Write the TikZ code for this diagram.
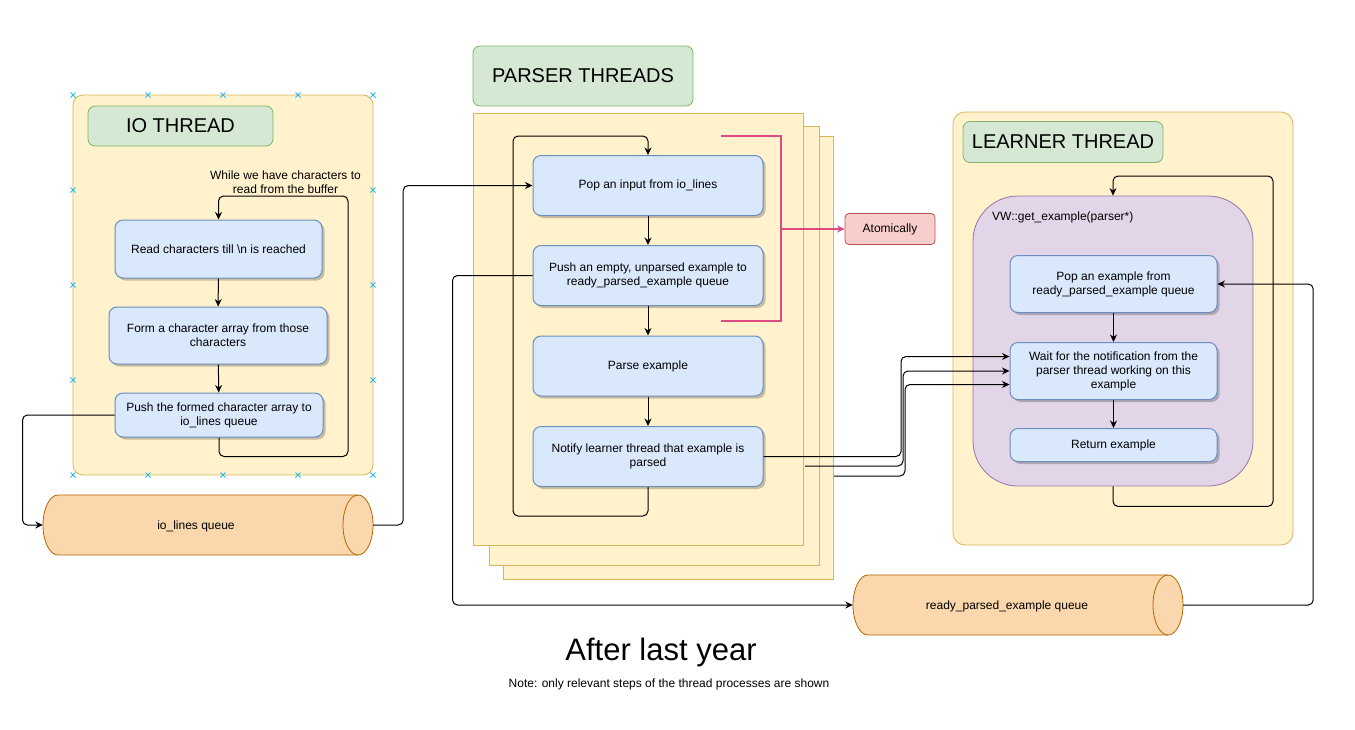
\documentclass[tikz,border=0pt]{standalone}
\usepackage{fontspec}
\setmainfont{Liberation Sans}
\usetikzlibrary{arrows.meta,shadows,calc}
\definecolor{boxfill}{HTML}{DAE8FC}
\definecolor{boxline}{HTML}{6C8EBF}
\definecolor{yfill}{HTML}{FFF2CC}
\definecolor{yline}{HTML}{D6B656}
\definecolor{gfill}{HTML}{D5E8D4}
\definecolor{gline}{HTML}{82B366}
\definecolor{rfill}{HTML}{F8CECC}
\definecolor{rline}{HTML}{B85450}
\definecolor{pfill}{HTML}{E1D5E7}
\definecolor{pline}{HTML}{9673A6}
\definecolor{ofill}{HTML}{FAD7AC}
\definecolor{oline}{HTML}{B46504}
\definecolor{pinkc}{HTML}{DE4A82}
\definecolor{handle}{HTML}{29B6F2}
\tikzset{
  ftw/.style={font=\fontsize{12}{14}\selectfont},
  fbig/.style={font=\fontsize{20}{24}\selectfont},
  box/.style={draw=boxline, fill=boxfill, rounded corners=8pt, align=center, ftw, inner sep=0pt, line width=1pt,
    drop shadow={shadow xshift=2.5pt, shadow yshift=-2.5pt, fill=black, opacity=0.22}},
  ycont/.style={draw=yline, fill=yfill, inner sep=0pt, line width=0.8pt},
  title/.style={draw=gline, fill=gfill, rounded corners=7pt, fbig, inner sep=0pt, line width=0.8pt},
  conn/.style={draw=black, line width=1pt, rounded corners=5pt, -{Stealth[length=7.5pt,width=7pt]}},
  pinkl/.style={draw=pinkc, line width=1.2pt},
  cyl/.style={draw=oline, fill=ofill, line width=0.8pt},
}
\begin{document}
\begin{tikzpicture}[x=1pt,y=-1pt]
\useasboundingbox (0,0) rectangle (1355,729);

% ---------- IO THREAD ----------
\node[ycont, rounded corners=10pt, minimum width=300pt, minimum height=380pt] (iocont) at (223,285) {};
\foreach \xx in {73,148,223,298,373} {
  \foreach \yy in {95,475} {
    \draw[handle, line width=0.8pt] (\xx-2.5,\yy-2.5) -- (\xx+2.5,\yy+2.5) (\xx-2.5,\yy+2.5) -- (\xx+2.5,\yy-2.5);
  }
}
\foreach \xx in {73,373} {
  \foreach \yy in {190,285,380} {
    \draw[handle, line width=0.8pt] (\xx-2.5,\yy-2.5) -- (\xx+2.5,\yy+2.5) (\xx-2.5,\yy+2.5) -- (\xx+2.5,\yy-2.5);
  }
}
\node[title, minimum width=185pt, minimum height=40pt] (iotitle) at (180.5,126) {IO THREAD};
\node[box, minimum width=207pt, minimum height=58pt] (read) at (218.5,249) {Read characters till \textbackslash n is reached};
\node[box, minimum width=218pt, minimum height=57pt] (form) at (218,335.5) {Form a character array from those\\characters};
\node[box, minimum width=208pt, minimum height=44pt] (pushio) at (219,415) {Push the formed character array to\\io\_lines queue};
\node[ftw, align=center, inner sep=0pt] (whilelbl) at (285.5,182) {While we have characters to\\read from the buffer};

% io_lines queue cylinder
\node[minimum width=330pt, minimum height=60pt, inner sep=0pt] (ioq) at (208,525) {};
\draw[cyl] (58,495) -- (358,495) arc[start angle=90,end angle=-90,x radius=15pt,y radius=30pt]
  -- (58,555) arc[start angle=270,end angle=90,x radius=15pt,y radius=30pt] -- cycle;
\draw[draw=oline, line width=0.8pt] (358,495) arc[start angle=90,end angle=270,x radius=15pt,y radius=30pt];
\node[ftw, inner sep=0pt] (ioqlbl) at (196,526) {io\_lines queue};

% ---------- PARSER THREADS ----------
\node[title, minimum width=220pt, minimum height=60pt] (ptitle) at (583,76) {PARSER THREADS};
\node[ycont, minimum width=330pt, minimum height=443pt] (back) at (668,357.5) {};
\node[ycont, minimum width=330pt, minimum height=439pt] (mid) at (654,345.5) {};
\node[ycont, minimum width=330pt, minimum height=432pt] (front) at (638,329) {};
\node[box, minimum width=230pt, minimum height=60pt] (pop) at (648,185.5) {Pop an input from io\_lines};
\node[box, minimum width=230pt, minimum height=60pt] (push) at (648,275.5) {Push an empty, unparsed example to\\ready\_parsed\_example queue};
\node[box, minimum width=230pt, minimum height=60pt] (parse) at (648,366) {Parse example};
\node[box, minimum width=230pt, minimum height=60pt] (notify) at (648,456.5) {Notify learner thread that example is\\parsed};
\node[draw=rline, fill=rfill, rounded corners=4pt, ftw, inner sep=0pt, minimum width=90pt, minimum height=31pt, line width=0.8pt] (atom) at (890,229) {Atomically};

% ---------- LEARNER THREAD ----------
\node[ycont, rounded corners=12pt, minimum width=340pt, minimum height=433pt] (lcont) at (1123,328.5) {};
\node[title, minimum width=200pt, minimum height=41pt] (ltitle) at (1063,142) {LEARNER THREAD};
\node[draw=pline, fill=pfill, rounded corners=45pt, minimum width=280pt, minimum height=290pt, inner sep=0pt, line width=0.8pt] (purple) at (1113,341) {};
\node[ftw, anchor=west, inner sep=0pt] (vwlbl) at (992,217) {VW::get\_example(parser*)};
\node[box, minimum width=207pt, minimum height=57pt] (popex) at (1113.5,284) {Pop an example from\\ready\_parsed\_example queue};
\node[box, minimum width=207pt, minimum height=57pt] (wait) at (1113.5,371) {Wait for the notification from the\\parser thread working on this\\example};
\node[box, minimum width=207pt, minimum height=33pt] (ret) at (1113.5,445) {Return example};

% ready queue cylinder
\node[minimum width=330pt, minimum height=60pt, inner sep=0pt] (rq) at (1018,605) {};
\draw[cyl] (868,575) -- (1168,575) arc[start angle=90,end angle=-90,x radius=15pt,y radius=30pt]
  -- (868,635) arc[start angle=270,end angle=90,x radius=15pt,y radius=30pt] -- cycle;
\draw[draw=oline, line width=0.8pt] (1168,575) arc[start angle=90,end angle=270,x radius=15pt,y radius=30pt];
\node[ftw, inner sep=0pt] (rqlbl) at (1007,606) {ready\_parsed\_example queue};

% ---------- captions ----------
\node[font=\fontsize{31}{36}\selectfont, inner sep=0pt] (caption) at (661,652) {After last year};
\node[font=\fontsize{12}{14}\selectfont, inner sep=0pt] (note) at (669,684) {Note: only relevant steps of the thread processes are shown};

% ---------- connectors ----------
\draw[conn] (read) -- (form);
\draw[conn] (form) -- (pushio);
\draw[conn] (pushio.south) -- ++(0,19) -| (348,196) -| (read.north);
\draw[conn] (pushio.west) -- ++(-92,0) |- (ioq.west);
\draw[conn] (ioq.east) -- ++(30,0) |- (pop.west);

\draw[conn] (pop) -- (push);
\draw[conn] (push) -- (parse);
\draw[conn] (parse) -- (notify);
\draw[conn] (notify.south) -- ++(0,29) -| (513,136) -| (pop.north);
\draw[conn] (push.west) -- ++(-80,0) |- (rq.west);

\coordinate (bt) at (721,136);
\coordinate (bb) at (721,321);
\draw[pinkl] (bt) -- (781,136) -- (781,321) -- (bb);
\draw[pinkl, -{Stealth[length=7.5pt,width=7pt]}] (781,229) -- (atom.west);

\coordinate (w1) at ($(wait.west)+(0,-14.5)$);
\coordinate (w3) at ($(wait.west)+(0,13.5)$);
\coordinate (m2) at (805,466);
\coordinate (m3) at (834,476);
\draw[conn] (notify.east) -| (901,356.5) -- (w1);
\draw[conn] (m2) -| (903,371) -- (wait.west);
\draw[conn] (m3) -| (905,384.5) -- (w3);

\draw[conn] (popex) -- (wait);
\draw[conn] (wait) -- (ret);
\draw[conn] (purple.south) -- ++(0,20) -| (1273,176) -| (purple.north);
\draw[conn] (rq.east) -- ++(130,0) |- (popex.east);
\end{tikzpicture}
\end{document}
